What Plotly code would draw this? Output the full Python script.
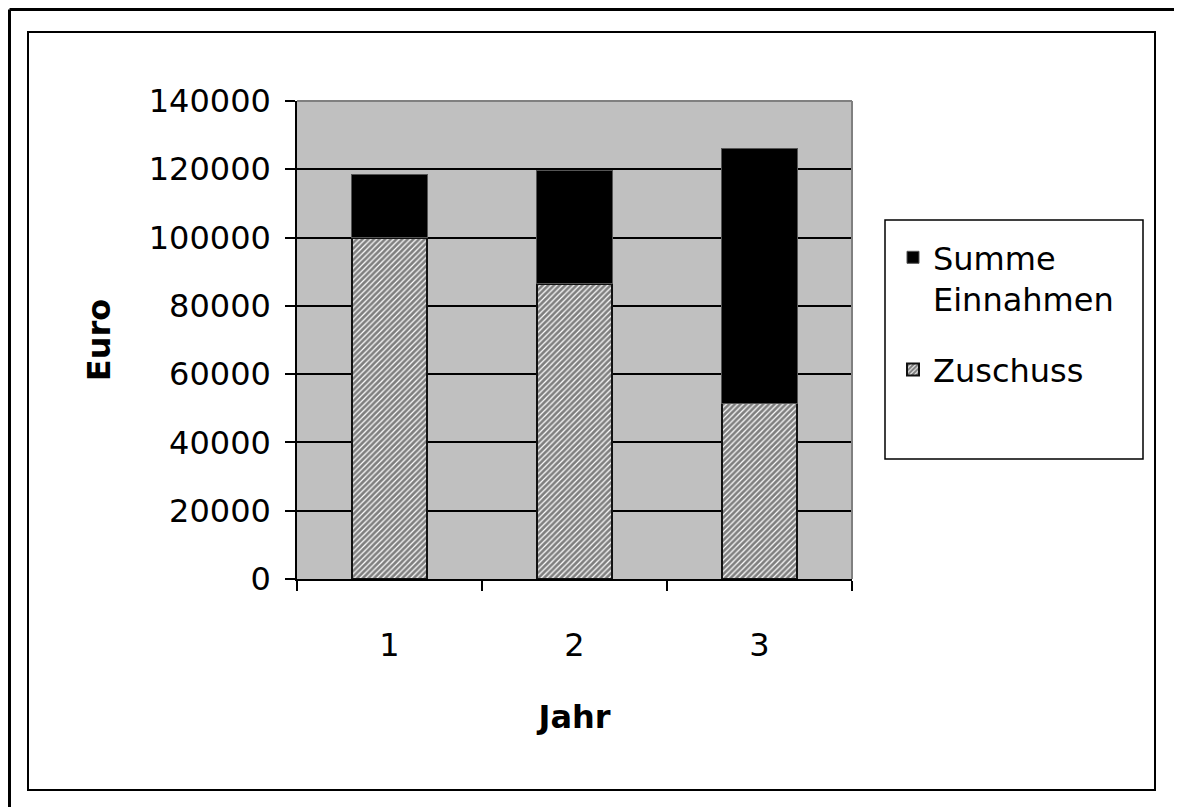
import plotly.graph_objects as go

# ---- data ----
jahre = ["1", "2", "3"]
zuschuss = [100000, 86500, 51500]
summe_einnahmen = [18400, 33000, 74700]
y_ticks = [0, 20000, 40000, 60000, 80000, 100000, 120000, 140000]

OFF = 8  # page body margin
W, H = 1182 - OFF, 807 - OFF
L, R, T, B = 297, 852, 101, 579  # plot area in screen pixels

def px(xp):
    return (xp - L) / (R - L)

def py(yp):
    return (B - yp) / (B - T)

FONT = "DejaVu Sans, Liberation Sans, Arial, sans-serif"
FS = 32

fig = go.Figure()
fig.add_trace(go.Bar(
    x=jahre, y=zuschuss, name="Zuschuss", width=0.41, legendgroup="z", legendrank=2,
    marker=dict(color="white",
                pattern=dict(shape="/", fgcolor="black", bgcolor="white", size=4, solidity=0.7),
                line=dict(color="#111111", width=2)),
))
fig.add_trace(go.Bar(
    x=jahre, y=summe_einnahmen, name="Summe<br>Einnahmen", width=0.41, legendgroup="s", legendrank=1,
    marker=dict(color="black", line=dict(color="#555555", width=1)),
))

shapes = [
    # outer frame (left and top edges)
    dict(type="line", xref="paper", yref="paper", x0=px(9.5), x1=px(9.5), y0=py(9.5), y1=py(815),
         line=dict(color="black", width=3)),
    dict(type="line", xref="paper", yref="paper", x0=px(9.5), x1=px(1190), y0=py(9.5), y1=py(9.5),
         line=dict(color="black", width=3)),
    # inner frame
    dict(type="rect", xref="paper", yref="paper", x0=px(28), x1=px(1155), y0=py(32), y1=py(790),
         line=dict(color="black", width=2)),
    # plot border top & right (grey)
    dict(type="line", xref="paper", yref="paper", x0=0, x1=1, y0=1, y1=1,
         line=dict(color="#808080", width=2)),
    dict(type="line", xref="paper", yref="paper", x0=1, x1=1, y0=0, y1=1,
         line=dict(color="#808080", width=2)),
    # legend box
    dict(type="rect", xref="paper", yref="paper", x0=px(885), x1=px(1143), y0=py(220), y1=py(459),
         line=dict(color="black", width=1.5), fillcolor="white", layer="below"),
]

fig.update_layout(
    width=W, height=H,
    margin=dict(l=L - OFF, r=W - (R - OFF), t=T - OFF, b=H - (B - OFF)),
    paper_bgcolor="white", plot_bgcolor="#C0C0C0",
    barmode="stack",
    font=dict(family=FONT, size=FS, color="black"),
    showlegend=True,
    legend=dict(x=px(893), y=py(230), xanchor="left", yanchor="top",
                traceorder="grouped", bgcolor="rgba(0,0,0,0)", borderwidth=0,
                font=dict(size=FS), valign="top",
                tracegroupgap=26),
    shapes=shapes,
    xaxis=dict(
        type="category", showline=True, linecolor="black", linewidth=1.5,
        ticks="outside", tickson="boundaries", ticklen=10, tickwidth=1.5, tickcolor="black",
        showgrid=False, tickfont=dict(size=FS), ticklabelstandoff=37,
        title=dict(text="<b>Jahr</b>", font=dict(size=FS), standoff=42),
    ),
    yaxis=dict(
        range=[0, 140000], tickvals=y_ticks, ticktext=[str(v) for v in y_ticks],
        showline=True, linecolor="black", linewidth=1.5,
        ticks="outside", ticklen=10, tickwidth=1.5, tickcolor="black",
        showgrid=True, gridcolor="black", gridwidth=1.5,
        zeroline=False, tickfont=dict(size=FS), ticklabelstandoff=8,
        title=dict(text="<b>Euro</b>", font=dict(size=FS), standoff=28),
    ),
)

fig.write_html("out.html")
